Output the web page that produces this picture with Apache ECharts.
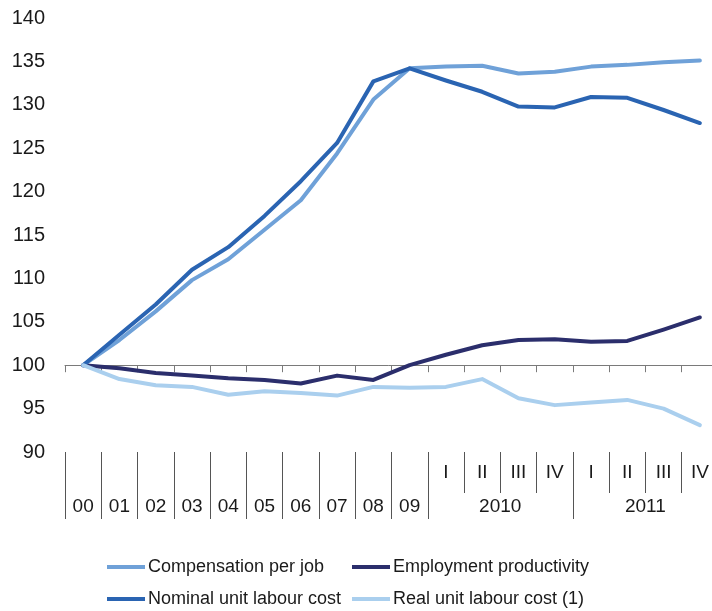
<!DOCTYPE html>
<html>
<head>
<meta charset="utf-8">
<script src="https://cdn.jsdelivr.net/npm/echarts@6/dist/echarts.min.js"></script>
<style>
html,body{margin:0;padding:0;background:#fff;}
#chart{width:712px;height:611px;}
</style>
</head>
<body>
<div id="chart"></div>
<script>
// ---- data ----
const categories = ['00','01','02','03','04','05','06','07','08','09',
  '2010 I','2010 II','2010 III','2010 IV','2011 I','2011 II','2011 III','2011 IV'];
const yearLabels = ['00','01','02','03','04','05','06','07','08','09',
  '','2010','','','','2011','',''];
const quarterLabels = ['','','','','','','','','','',
  'I','II','III','IV','I','II','III','IV'];
const yTicks = {min: 90, max: 140, interval: 5};

const compensationPerJob = [100, 102.9, 106.2, 109.8, 112.2, 115.6, 119.0, 124.4, 130.6, 134.2,
  134.4, 134.5, 133.6, 133.8, 134.4, 134.6, 134.9, 135.1];
const employmentProductivity = [100, 99.65, 99.1, 98.8, 98.5, 98.3, 97.9, 98.8, 98.3, 100.0,
  101.2, 102.3, 102.9, 103.0, 102.7, 102.8, 104.1, 105.5];
const nominalULC = [100, 103.5, 107.0, 111.0, 113.6, 117.2, 121.2, 125.6, 132.7, 134.2,
  132.8, 131.5, 129.8, 129.7, 130.9, 130.8, 129.4, 127.9];
const realULC = [100, 98.4, 97.7, 97.5, 96.6, 97.0, 96.8, 96.5, 97.5, 97.4,
  97.5, 98.4, 96.2, 95.4, 95.7, 96.0, 95.0, 93.1];

const names = ['Compensation per job','Employment productivity','Nominal unit labour cost','Real unit labour cost (1)'];
const colors = ['#6FA1D8','#2B2E6C','#2A64B2','#AACFEE'];

// ---- chart ----
const chart = echarts.init(document.getElementById('chart'), null, {renderer:'canvas'});
const font = 'Liberation Sans, Arial, sans-serif';
const gridBottomY = 452, gridTopY = 18;
const pxPerUnit = (gridBottomY - gridTopY) / (yTicks.max - yTicks.min);
const baseOffset = -(100 - yTicks.min) * pxPerUnit;

function mkSeries(i, data){
  return {
    name: names[i], type: 'line', data: data, xAxisIndex: 0,
    symbol: 'none', smooth: false, color: colors[i],
    itemStyle: {color: colors[i]},
    lineStyle: {width: 4, color: colors[i], cap: 'round', join: 'round'},
    z: 3
  };
}

chart.setOption({
  animation: false,
  textStyle: {fontFamily: font},
  grid: {left: 65, width: 653, top: gridTopY, height: gridBottomY - gridTopY,
    containLabel: false, outerBoundsMode: 'none'},
  yAxis: {
    type: 'value', min: yTicks.min, max: yTicks.max, interval: yTicks.interval,
    axisLine: {show: false}, axisTick: {show: false}, splitLine: {show: false},
    axisLabel: {color: '#1a1a1a', fontSize: 20, margin: 20, fontFamily: font}
  },
  xAxis: [
    {
      type: 'category', data: categories, position: 'bottom', offset: baseOffset,
      boundaryGap: true,
      axisLine: {show: true, lineStyle: {color: '#7a7a7a', width: 1}},
      axisTick: {show: true, length: 7, interval: 0, lineStyle: {color: '#7a7a7a'}},
      axisLabel: {show: false}
    },
    {
      type: 'category', data: quarterLabels, position: 'bottom', offset: 0,
      boundaryGap: true,
      axisLine: {show: false},
      axisTick: {show: true, length: 41, interval: 0, lineStyle: {color: '#555'}},
      axisLabel: {show: true, interval: 0, margin: 11, fontSize: 19, color: '#1a1a1a', fontFamily: font}
    },
    {
      type: 'category', data: yearLabels, position: 'bottom', offset: 0,
      boundaryGap: true,
      axisLine: {show: false},
      axisTick: {show: true, length: 67,
        interval: function(idx){ return idx <= 10 || idx === 14; },
        lineStyle: {color: '#555'}},
      axisLabel: {show: true, interval: 0, margin: 45, fontSize: 19, color: '#1a1a1a', fontFamily: font,
        formatter: function(v){ return v.length === 4 ? '{s|' + v + '}' : v; },
        rich: {s: {padding: [0,0,0,36], fontSize: 19, color: '#1a1a1a', fontFamily: font}}
      }
    }
  ],
  legend: [
    {
      data: [names[0], names[2]], orient: 'vertical', left: 107, top: 558, padding: 0,
      itemGap: 14, itemWidth: 38, itemHeight: 4, icon: 'rect',
      textStyle: {fontSize: 18, color: '#1a1a1a', fontFamily: font, padding: [0,0,0,-2]}
    },
    {
      data: [names[1], names[3]], orient: 'vertical', left: 352, top: 558, padding: 0,
      itemGap: 14, itemWidth: 38, itemHeight: 4, icon: 'rect',
      textStyle: {fontSize: 18, color: '#1a1a1a', fontFamily: font, padding: [0,0,0,-2]}
    }
  ],
  series: [
    mkSeries(0, compensationPerJob),
    mkSeries(1, employmentProductivity),
    mkSeries(2, nominalULC),
    mkSeries(3, realULC)
  ]
});
</script>
</body>
</html>
